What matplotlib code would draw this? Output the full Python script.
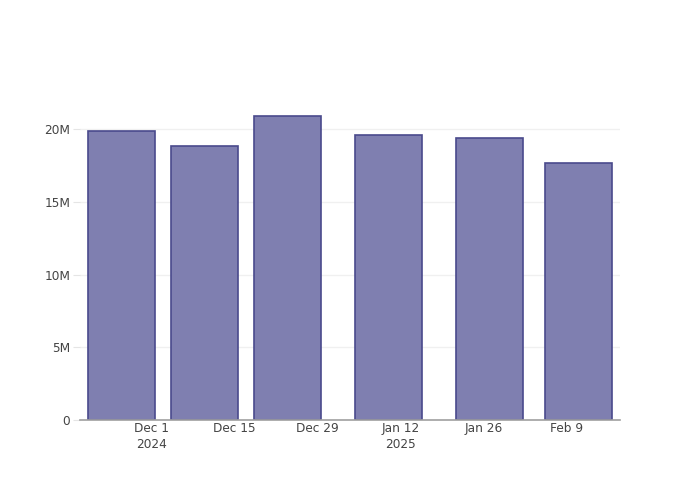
import matplotlib
matplotlib.use("Agg")
import matplotlib.pyplot as plt
import pandas as pd

dates = pd.to_datetime(["2024-11-26", "2024-12-10", "2024-12-24",
                        "2025-01-10", "2025-01-27", "2025-02-11"])
values = [19.88e6, 18.84e6, 20.9e6, 19.58e6, 19.38e6, 17.66e6]

tick_dates = pd.to_datetime(["2024-12-01", "2024-12-15", "2024-12-29",
                             "2025-01-12", "2025-01-26", "2025-02-09"])
tick_labels = ["Dec 1\n2024", "Dec 15", "Dec 29", "Jan 12\n2025", "Jan 26", "Feb 9"]

y_ticks = [0, 5e6, 10e6, 15e6, 20e6]
y_labels = ["0", "5M", "10M", "15M", "20M"]

fig = plt.figure(figsize=(7, 5), dpi=100)
ax = fig.add_axes([80 / 700, 80 / 500, 540 / 700, 320 / 500])

ax.bar(dates, values, width=11.2, color="#7f7fb0", edgecolor="#4a4a8c",
       linewidth=1.2, zorder=3)

ax.set_xlim(dates[0] - pd.Timedelta(days=7), dates[-1] + pd.Timedelta(days=7))
ax.set_ylim(0, 22.0e6)

ax.set_xticks(tick_dates)
ax.set_xticklabels(tick_labels, fontsize=8.7, color="#444444", linespacing=1.25)
ax.set_yticks(y_ticks)
ax.set_yticklabels(y_labels, fontsize=8.7, color="#444444")

ax.tick_params(axis="x", length=0, pad=1.5)
ax.tick_params(axis="y", length=5, color="#e5e5e5", pad=2)

ax.grid(axis="y", color="#f0f0f0", linewidth=1, zorder=0)
for s in ["top", "right", "left"]:
    ax.spines[s].set_visible(False)
ax.spines["bottom"].set_color("#a0a0a0")
ax.spines["bottom"].set_linewidth(1.2)
ax.spines["bottom"].set_zorder(4)

fig.savefig("out.png", dpi=100)
